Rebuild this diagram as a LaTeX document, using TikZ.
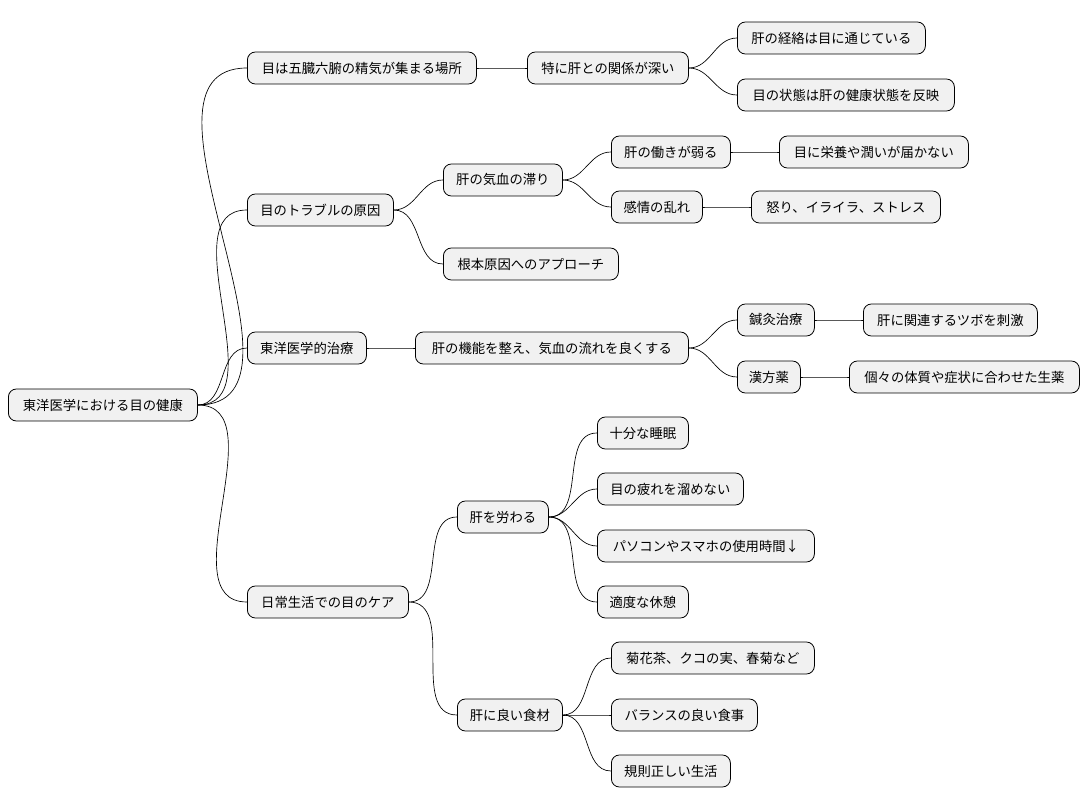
\documentclass[tikz,border=0pt]{standalone}
\usepackage{fontspec}
\setmainfont{Noto Sans CJK JP}
\definecolor{nodebg}{HTML}{F1F1F1}
\begin{document}
\begin{tikzpicture}[x=0.75pt,y=-0.75pt,
  box/.style={draw=black,fill=nodebg,rounded corners=6pt,line width=0.6pt,anchor=west,
    minimum height=24pt,inner xsep=0pt,font=\fontsize{10pt}{12pt}\selectfont},
  link/.style={draw=black,line width=0.5pt}]
\useasboundingbox (0,0) rectangle (1090,809);
\newcommand\NN[5]{\node[box,minimum width={(#3-#2)*0.75pt}] (#1) at (#2,#4) {#5};}
\NN{r}{8}{197}{405}{東洋医学における目の健康}
\NN{A}{247}{476}{68}{目は五臓六腑の精気が集まる場所}
\NN{B}{247}{393}{210}{目のトラブルの原因}
\NN{C}{247}{366}{348}{東洋医学的治療}
\NN{D}{247}{408}{602}{日常生活での目のケア}
\NN{A1}{527}{688}{68}{特に肝との関係が深い}
\NN{A1a}{737}{925}{38}{肝の経絡は目に通じている}
\NN{A1b}{737}{954}{95}{目の状態は肝の健康状態を反映}
\NN{B1}{443}{562}{180}{肝の気血の滞り}
\NN{B1a}{611}{730}{152}{肝の働きが弱る}
\NN{B1a1}{779}{968}{152}{目に栄養や潤いが届かない}
\NN{B1b}{611}{702}{207}{感情の乱れ}
\NN{B1b1}{751}{940}{207}{怒り、イライラ、ストレス}
\NN{B2}{443}{618}{264}{根本原因へのアプローチ}
\NN{C1}{415}{688}{348}{肝の機能を整え、気血の流れを良くする}
\NN{C1a}{737}{814}{320}{鍼灸治療}
\NN{C1a1}{863}{1037}{320}{肝に関連するツボを刺激}
\NN{C1b}{737}{800}{377}{漢方薬}
\NN{C1b1}{849}{1079}{377}{個々の体質や症状に合わせた生薬}
\NN{D1}{457}{548}{517}{肝を労わる}
\NN{D1a}{597}{688}{433}{十分な睡眠}
\NN{D1b}{597}{743}{489}{目の疲れを溜めない}
\NN{D1c}{597}{814}{546}{パソコンやスマホの使用時間↓}
\NN{D1d}{597}{688}{602}{適度な休憩}
\NN{D2}{457}{562}{715}{肝に良い食材}
\NN{D2a}{611}{814}{658}{菊花茶、クコの実、春菊など}
\NN{D2b}{611}{757}{715}{バランスの良い食事}
\NN{D2c}{611}{730}{771}{規則正しい生活}
\foreach \p/\c in {r/A,r/B,r/C,r/D,A/A1,A1/A1a,A1/A1b,B/B1,B/B2,B1/B1a,B1/B1b,B1a/B1a1,B1b/B1b1,
  C/C1,C1/C1a,C1/C1b,C1a/C1a1,C1b/C1b1,D/D1,D/D2,D1/D1a,D1/D1b,D1/D1c,D1/D1d,D2/D2a,D2/D2b,D2/D2c}
  \draw[link] (\p.east) to[out=0,in=180] (\c.west);
\end{tikzpicture}
\end{document}
